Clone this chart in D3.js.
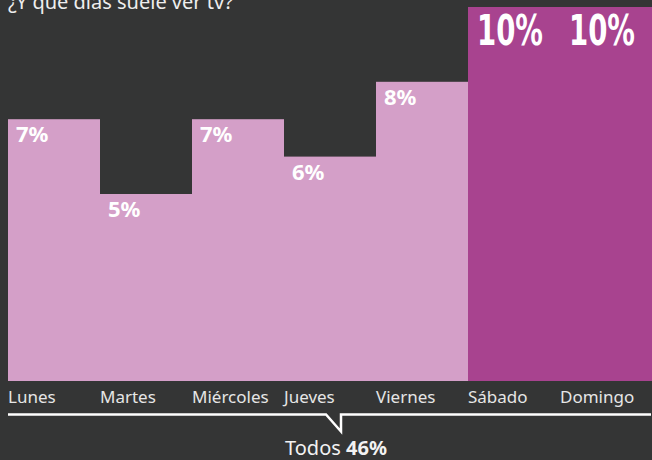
<!DOCTYPE html>
<html>
<head>
<meta charset="utf-8">
<script src="https://cdn.jsdelivr.net/npm/d3@7"></script>
<style>
  html, body { margin: 0; padding: 0; background: #343535; }
  svg { display: block; }
</style>
</head>
<body>
<div id="chart"></div>
<script>
const days = ["Lunes", "Martes", "Miércoles", "Jueves", "Viernes", "Sábado", "Domingo"];
const shares = [7, 5, 7, 6, 8, 10, 10];
const weekend = ["Sábado", "Domingo"];
const totalLabel = "46%";

const W = 652, H = 460;

const svg = d3.select("#chart")
  .append("svg")
    .attr("width", W)
    .attr("height", H);

svg.append("rect")
  .attr("width", W)
  .attr("height", H)
  .attr("fill", "#343535");

// title, cut off at the top as in the source
svg.append("text")
  .attr("x", 8)
  .attr("y", 9)
  .attr("font-family", "'Noto Sans', sans-serif")
  .attr("font-size", "20px")
  .attr("fill", "#eeeeee")
  .text("¿Y qué días suele ver tv?");

// scales
const x = d3.scaleBand()
  .domain(days)
  .range([8, 652])
  .padding(0);

const y = d3.scaleLinear()
  .domain([0, 10])
  .range([381, 7]);

const data = days.map((d, i) => ({ day: d, value: shares[i] }));

// bars
svg.selectAll("rect.bar")
  .data(data)
  .enter()
  .append("rect")
    .attr("class", "bar")
    .attr("x", d => x(d.day))
    .attr("y", d => y(d.value))
    .attr("width", x.bandwidth())
    .attr("height", d => y(0) - y(d.value))
    .attr("fill", d => weekend.includes(d.day) ? "#a8438f" : "#d49fc8");

// value labels, weekdays
svg.selectAll("text.label")
  .data(data.filter(d => !weekend.includes(d.day)))
  .enter()
  .append("text")
    .attr("class", "label")
    .attr("x", d => x(d.day) + 8)
    .attr("y", d => y(d.value) + 23)
    .attr("font-family", "'Noto Sans', sans-serif")
    .attr("font-weight", "bold")
    .attr("font-size", "22px")
    .attr("fill", "#ffffff")
    .text(d => d.value + "%");

// value labels, weekend (big, squeezed to a condensed look)
const bigWidth = 66;
svg.selectAll("text.big")
  .data(data.filter(d => weekend.includes(d.day)))
  .enter()
  .append("text")
    .attr("class", "big")
    .attr("font-family", "'DejaVu Sans Condensed', sans-serif")
    .attr("font-weight", "bold")
    .attr("font-size", "42px")
    .attr("fill", "#ffffff")
    .text(d => d.value + "%")
    .each(function(d) {
      const len = this.getComputedTextLength();
      d3.select(this).attr("transform",
        `translate(${x(d.day) + 9},${y(d.value) + 38}) scale(${bigWidth / len},1)`);
    });

// x axis, labels left aligned at band start
const xAxis = svg.append("g")
  .attr("transform", `translate(0,${y(0)})`)
  .call(d3.axisBottom(x).tickSize(0).tickPadding(0))
  .call(g => g.select(".domain").remove());

xAxis.selectAll(".tick text")
  .attr("x", -x.bandwidth() / 2)
  .attr("y", 22)
  .attr("dy", 0)
  .attr("text-anchor", "start")
  .attr("font-family", "'Noto Sans', sans-serif")
  .attr("font-size", "17px")
  .attr("fill", "#e6e6e6");

// bracket with pointer
const lineY = 414.5;
const tipX = 341;
svg.append("path")
  .attr("d", `M8,${lineY} H${tipX - 15} L${tipX},${lineY + 17} V${lineY} H651`)
  .attr("fill", "none")
  .attr("stroke", "#ffffff")
  .attr("stroke-width", 2.5);

const total = svg.append("text")
  .attr("x", 336)
  .attr("y", 455)
  .attr("text-anchor", "middle")
  .attr("font-family", "'Noto Sans', sans-serif")
  .attr("font-size", "20px")
  .attr("fill", "#f2f2f2");

total.append("tspan").text("Todos ");
total.append("tspan").attr("font-weight", "bold").text(totalLabel);
</script>
</body>
</html>
